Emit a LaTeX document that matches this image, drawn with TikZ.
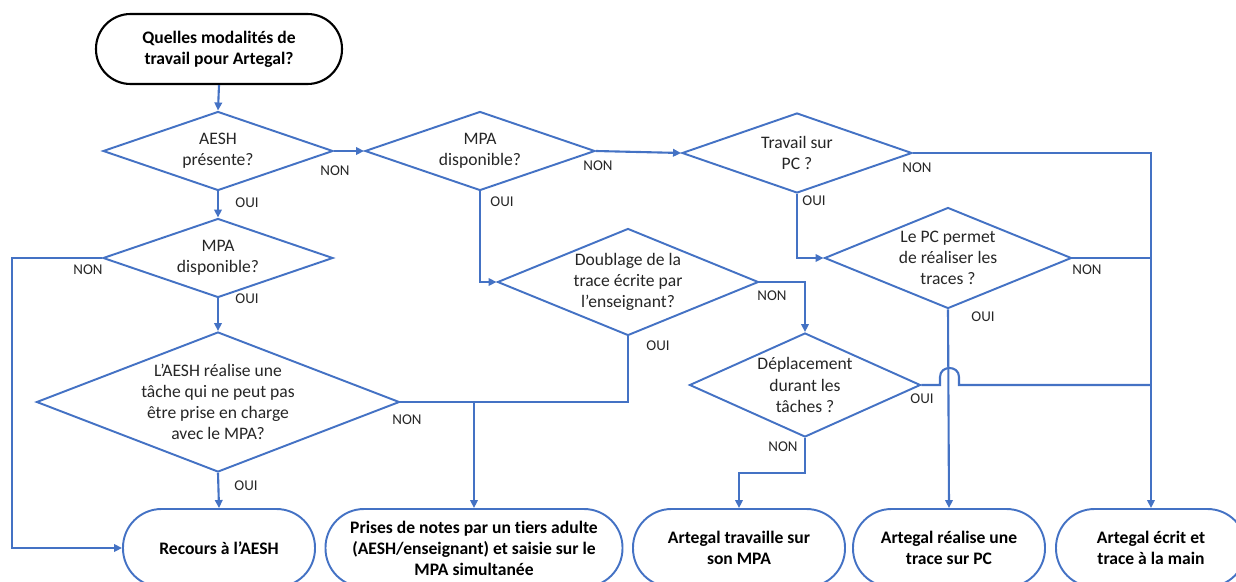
\documentclass[tikz,border=0pt]{standalone}
\usepackage{fontspec}
\setmainfont{Carlito}[Ligatures=NoCommon]
\usetikzlibrary{arrows.meta, shapes.geometric}
\definecolor{flowblue}{HTML}{4472C4}
\colorlet{flowtext}{black!85}
\tikzset{
  titlebox/.style={draw=black, line width=1.2pt, rounded corners=0.69cm,
    minimum width=4.92cm, minimum height=1.4cm, inner sep=0pt,
    align=center, font=\bfseries\fontsize{10}{12}\selectfont},
  decision/.style 2 args={diamond, draw=flowblue, line width=1.1pt, inner sep=0pt,
    minimum width=#1*0.02cm, minimum height=#2*0.02cm},
  dectext/.style={font=\fontsize{10}{12}\selectfont, text=flowtext, align=center, inner sep=0pt},
  outcome/.style={draw=flowblue, line width=1.1pt, rounded corners=0.77cm,
    minimum width=#1*0.02cm, minimum height=1.56cm, inner sep=0pt,
    align=center, font=\bfseries\fontsize{10}{12}\selectfont},
  yesno/.style={font=\fontsize{8.5}{10}\selectfont, text=flowtext, inner sep=0pt},
  flowline/.style={draw=flowblue, line width=1.2pt},
  flow/.style={flowline, -{Triangle[length=1.6mm, width=1.5mm]}}
}

\begin{document}
\begin{tikzpicture}[x=0.02cm, y=-0.02cm]
  \path[use as bounding box, clip] (0,0) rectangle (1236,581);

  % Question
  \node[titlebox] (quest) at (219,49) {Quelles modalités de\\travail pour Artegal?};

  % Decisions
  \node[decision={230}{79}, label={[dectext]center:{AESH\\présente?}}] (aesh) at (218,151) {};
  \node[decision={230}{79}, label={[dectext]center:{MPA\\disponible?}}] (mpatop) at (480,151) {};
  \node[decision={230}{80}, label={[dectext]center:{Travail sur\\PC ?}}] (pc) at (797,153) {};
  \node[decision={230}{79}, label={[dectext]center:{MPA\\disponible?}}] (mpaleft) at (218,258) {};
  \node[decision={363}{140}, label={[dectext]center:{L’AESH réalise une\\tâche qui ne peut pas\\être prise en charge\\avec le MPA?}}] (tache) at (218,402) {};
  \node[decision={261}{107}, label={[dectext]center:{Doublage de la\\trace écrite par\\l’enseignant?}}] (doublage) at (628,282) {};
  \node[decision={231}{104}, label={[dectext]center:{Déplacement\\durant les\\tâches ?}}] (deplac) at (805,385) {};
  \node[decision={247}{101}, label={[dectext]center:{Le PC permet\\de réaliser les\\traces ?}}] (pcok) at (948,258) {};

  % Outcomes
  \node[outcome=192] (recours) at (219,548) {Recours à l’AESH};
  \node[outcome=297] (notes) at (474,548) {Prises de notes par un tiers adulte\\(AESH/enseignant) et saisie sur le\\MPA simultanée};
  \node[outcome=212] (surmpa) at (739,548) {Artegal travaille sur\\son MPA};
  \node[outcome=192] (surpc) at (949,548) {Artegal réalise une\\trace sur PC};
  \node[outcome=190] (main) at (1151,548) {Artegal écrit et\\trace à la main};

  % Connectors
  \draw[flow] (quest.south) -- (aesh.north);
  \draw[flow] (aesh.east) -- (mpatop.west);
  \draw[flow] (mpatop.east) -- (pc.west);
  \draw[flow] (pc.east) -| (main.north);
  \draw[flowline] (pcok.east) -- (pcok.east -| main.north);
  \draw[flowline] (deplac.east) -- (940,385) -- (940,377)
    .. controls (940,365) and (959,365) .. (959,377) -- (959,385)
    -- (deplac.east -| main.north);
  \draw[flow] (aesh.south) -- (mpaleft.north);
  \draw[flow] (mpaleft.west) -- ++(-90,0) |- (recours.west);
  \draw[flow] (mpaleft.south) -- (tache.north);
  \draw[flow] (tache.south) -- (recours.north);
  \draw[flowline] (doublage.south) |- (tache.east);
  \draw[flow] (tache.east) -| (notes.north);
  \draw[flow] (mpatop.south) |- (doublage.west);
  \draw[flow] (doublage.east) -| (deplac.north);
  \draw[flow] (deplac.south) -- ++(0,35) -| (surmpa.north);
  \draw[flow] (pc.south) |- (pcok.west);
  \draw[flow] (pcok.south) -- (surpc.north);

  % OUI / NON
  \node[yesno] (aeshnon) at (335,171) {NON};
  \node[yesno] (aeshoui) at (247,203) {OUI};
  \node[yesno] (mpatopnon) at (598,166) {NON};
  \node[yesno] (mpatopoui) at (502,202) {OUI};
  \node[yesno] (pcnon) at (917,168) {NON};
  \node[yesno] (pcoui) at (814,201) {OUI};
  \node[yesno] (mpaleftnon) at (88,270) {NON};
  \node[yesno] (mpaleftoui) at (247,299) {OUI};
  \node[yesno] (tachenon) at (407,420) {NON};
  \node[yesno] (tacheoui) at (246,486) {OUI};
  \node[yesno] (doublagenon) at (772,296) {NON};
  \node[yesno] (doublageoui) at (658,346) {OUI};
  \node[yesno] (deplacoui) at (922,399) {OUI};
  \node[yesno] (deplacnon) at (783,447) {NON};
  \node[yesno] (pcoknon) at (1087,270) {NON};
  \node[yesno] (pcokoui) at (983,317) {OUI};
\end{tikzpicture}
\end{document}
